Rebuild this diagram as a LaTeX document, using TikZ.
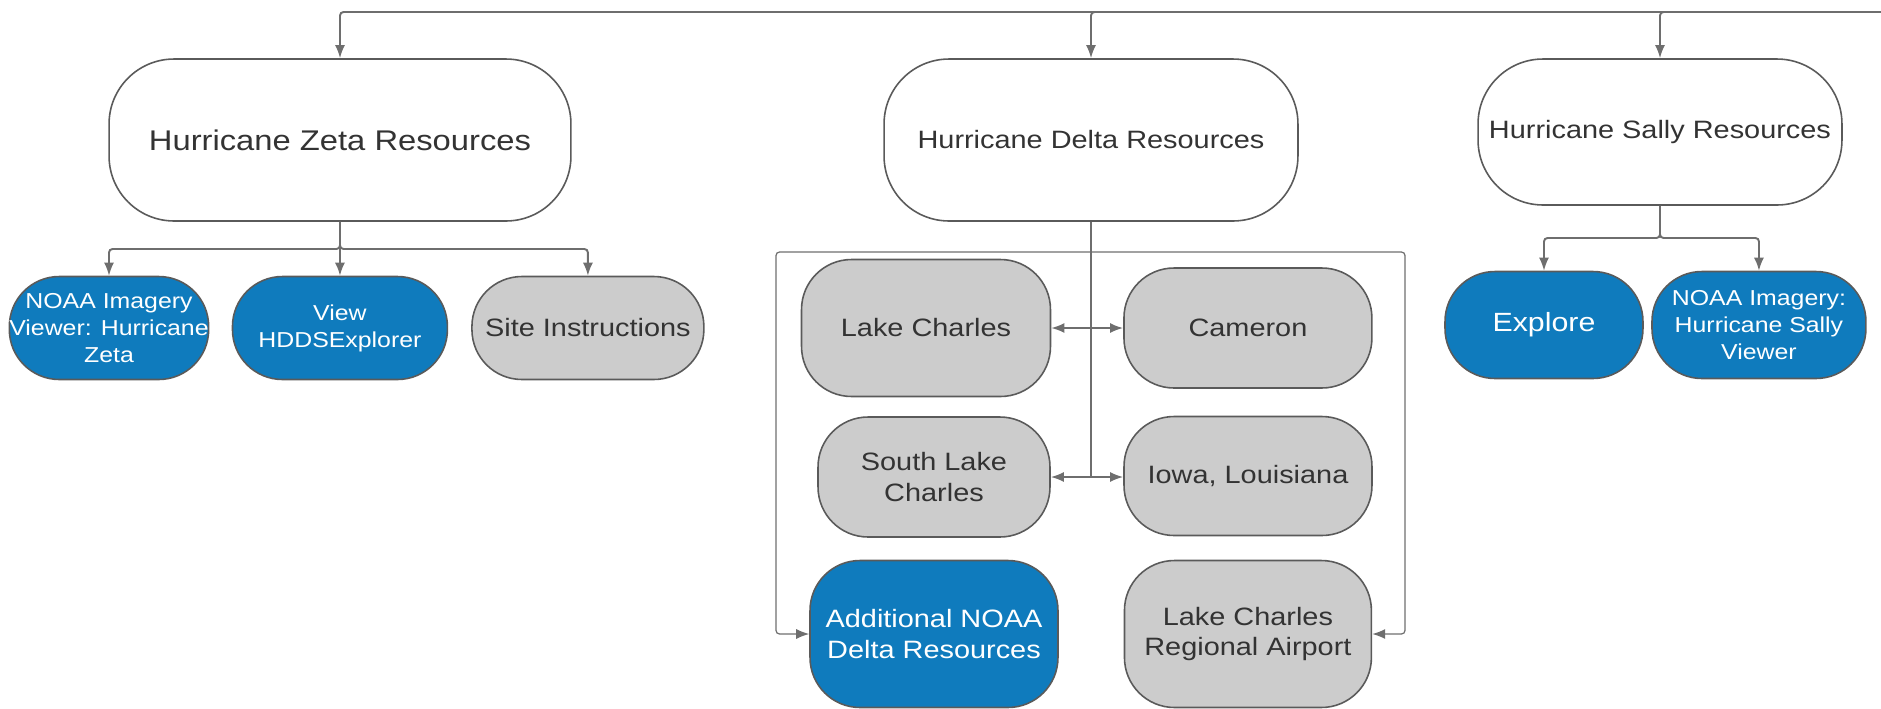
\documentclass[tikz,border=0pt]{standalone}
\usepackage{fontspec}
\setmainfont{Liberation Sans}[FakeStretch=1.15]
\usetikzlibrary{positioning,arrows.meta}
\definecolor{nblue}{HTML}{0F7BBD}
\definecolor{ngray}{HTML}{CCCCCC}
\definecolor{nline}{HTML}{6E6E6E}
\definecolor{nborder}{HTML}{5A5A5A}
\definecolor{ntext}{HTML}{333333}
\tikzstyle{hub}=[draw=nborder, fill=white, text=ntext, rounded corners=1.3cm, line width=0.9pt, align=center, inner sep=0pt, font=\fontsize{14.3}{17.6}\selectfont]
\tikzstyle{lnk}=[draw=nborder, fill=nblue, text=white, rounded corners=1cm, line width=0.9pt, align=center, inner sep=0pt, font=\fontsize{12.3}{15.3}\selectfont]
\tikzstyle{loc}=[draw=nborder, fill=ngray, text=ntext, rounded corners=1cm, line width=0.9pt, align=center, inner sep=0pt, font=\fontsize{14.3}{17.6}\selectfont]
\tikzstyle{con}=[->, draw=nline, line width=1.1pt, rounded corners=2pt]
\tikzstyle{side}=[->, draw=nline, line width=0.7pt, rounded corners=2pt]

\begin{document}
\begin{tikzpicture}[x=0.02cm, y=-0.02cm, >={Latex[length=2.6mm,width=2mm]}]
\useasboundingbox (0,0) rectangle (1881,708);

% storm resources
\node[hub, minimum width=9.24cm, minimum height=3.24cm, font=\fontsize{16.2}{20}\selectfont] (zeta) at (340,140) {Hurricane Zeta Resources};
\node[hub, minimum width=8.28cm, minimum height=3.24cm] (delta) at (1091,140) {Hurricane Delta Resources};
\node[hub, minimum width=7.28cm, minimum height=2.92cm] (sally) at (1660,132) {Hurricane Sally Resources};

\coordinate (top) at (1881,12);
\draw[con] (top) -| (zeta);
\draw[con] (top) -| (delta);
\draw[con] (top) -| (sally);

% zeta
\node[lnk, minimum width=3.96cm, minimum height=2.06cm] (noaaz) at (109,328) {NOAA Imagery\\Viewer: Hurricane\\Zeta};
\node[lnk, minimum width=4.3cm, minimum height=2.06cm, right of = noaaz, node distance = 4.62cm] (hdds) {View\\HDDSExplorer};
\node[loc, minimum width=4.64cm, minimum height=2.06cm, right of = hdds, node distance = 4.96cm] (site) {Site Instructions};

\coordinate (zb) at (340,249);
\draw[con] (zeta) -- (zb) -| (noaaz);
\draw[con] (zeta) -- (hdds);
\draw[con] (zeta) -- (zb) -| (site);

% delta
\node[loc, minimum width=4.98cm, minimum height=2.74cm] (lake) at (926,328) {Lake Charles};
\node[loc, minimum width=4.96cm, minimum height=2.4cm, right of = lake, node distance = 6.44cm] (cam) {Cameron};
\node[loc, minimum width=4.64cm, minimum height=2.4cm] (slake) at (934,477) {South Lake\\Charles};
\node[loc, minimum width=4.96cm, minimum height=2.38cm] (iowa) at (1248,476) {Iowa, Louisiana};
\node[lnk, minimum width=4.96cm, minimum height=2.94cm, font=\fontsize{14.3}{17.6}\selectfont] (addl) at (934,634) {Additional NOAA\\Delta Resources};
\node[loc, minimum width=4.94cm, minimum height=2.94cm, right of = addl, node distance = 6.28cm] (airport) {Lake Charles\\Regional Airport};

\coordinate (db) at (1091,252);
\coordinate (dl) at (776,252);
\coordinate (dr) at (1405,252);
\coordinate (dt) at (1091,476);
\draw[con,-] (delta) -- (dt);
\draw[con,<->] (lake) -- (cam);
\draw[con,<->] (slake.east) -- (slake.east -| iowa.west);
\draw[side] (db) -- (dl) |- (addl);
\draw[side] (db) -- (dr) |- (airport);

% sally
\node[lnk, minimum width=3.96cm, minimum height=2.14cm, font=\fontsize{15}{18}\selectfont] (explore) at (1544,325) {Explore};
\node[lnk, minimum width=4.28cm, minimum height=2.14cm, right of = explore, node distance = 4.3cm] (noaas) {NOAA Imagery:\\Hurricane Sally\\Viewer};

\coordinate (sb) at (1660,238);
\draw[con] (sally) -- (sb) -| (explore);
\draw[con] (sally) -- (sb) -| (noaas);
\end{tikzpicture}
\end{document}
